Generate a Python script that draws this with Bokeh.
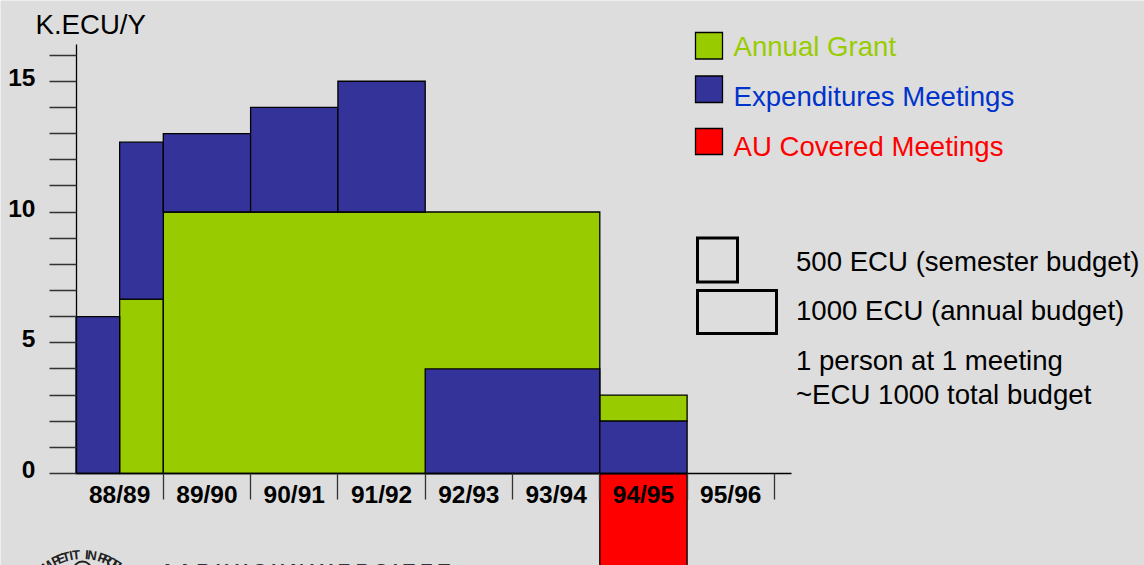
import math
from bokeh.plotting import figure
from bokeh.embed import file_html
from bokeh.resources import INLINE
from bokeh.core.properties import value
from bokeh.models import FixedTicker

years = ["88/89", "89/90", "90/91", "91/92", "92/93", "93/94", "94/95", "95/96"]
year_centres = [0.5, 1.5, 2.5, 3.5, 4.5, 5.5, 6.5, 7.5]
year_edges = [1, 2, 3, 4, 5, 6, 7, 8]
y_labels = [0, 5, 10, 15]
y_ticks = list(range(0, 17))

exp_left = [0, 0.5, 1, 2, 3, 4, 6]
exp_right = [0.5, 1, 2, 3, 4, 6, 7]
exp_top = [6, 12.67, 13, 14, 15, 4, 2]
exp_bottom = [0, 6.67, 10, 10, 10, 0, 0]

grant_left = [0.5, 1, 6]
grant_right = [1, 6, 7]
grant_top = [6.67, 10, 3]
grant_bottom = [0, 0, 2]

au_left = [6]
au_right = [7]
au_top = [0]
au_bottom = [-3.6]

GREEN, BLUE, RED, BG = "#99cc00", "#333399", "#ff0000", "#dddddd"
W, H = 1144, 565
X0, XU, Y0, YU = 75.5, 87.3, 473.0, 26.15
FONT = "Liberation Sans"


def dx(px):
    return (px - X0) / XU


def dy(py):
    return (Y0 - py) / YU


p = figure(width=W, height=H, output_backend="svg", toolbar_location=None,
           x_range=(dx(0), dx(W)), y_range=(dy(H), dy(0)),
           min_border=0, background_fill_color=BG, border_fill_color=BG)
p.outline_line_color = None
p.grid.visible = False

BAR = dict(line_color="black", line_width=1.3, line_join="miter")
p.quad(left=au_left, right=au_right, top=au_top, bottom=au_bottom, fill_color=RED, **BAR)
p.quad(left=grant_left, right=grant_right, top=grant_top, bottom=grant_bottom, fill_color=GREEN, **BAR)
p.quad(left=exp_left, right=exp_right, top=exp_top, bottom=exp_bottom, fill_color=BLUE, **BAR)

xa = p.xaxis[0]
xa.fixed_location = 0
xa.bounds = (0, 8.2)
xa.ticker = FixedTicker(ticks=year_centres, minor_ticks=year_edges)
xa.major_label_overrides = dict(zip(year_centres, years))
xa.major_tick_in = 0
xa.major_tick_out = 0
xa.minor_tick_in = 0
xa.minor_tick_out = 26
xa.major_label_standoff = -19
xa.major_label_text_font = FONT
xa.major_label_text_font_style = "bold"
xa.major_label_text_font_size = "24.5px"
xa.major_label_text_color = "black"
xa.axis_line_color = "black"
xa.axis_line_width = 1.3
xa.minor_tick_line_color = "#333333"
xa.minor_tick_line_width = 1.3

ya = p.yaxis[0]
ya.fixed_location = 0
ya.bounds = (0, 16.4)
ya.ticker = FixedTicker(ticks=[], minor_ticks=y_ticks)
ya.major_tick_in = 0
ya.major_tick_out = 0
ya.minor_tick_in = 0
ya.minor_tick_out = 27
ya.axis_line_color = "black"
ya.axis_line_width = 1.3
ya.minor_tick_line_color = "#333333"
ya.minor_tick_line_width = 1.3

p.text(x=[dx(35)] * 4, y=y_labels, text=[str(v) for v in y_labels], text_font=value(FONT),
       text_font_style="bold", text_font_size="24.5px", text_align="right",
       text_baseline="middle", text_color="black", y_offset=-4)


def label(px, py, s, color="black", size="27.6px", style="normal"):
    p.text(x=[dx(px)], y=[dy(py)], text=[s], text_font=value(FONT), text_font_size=size,
           text_color=color, text_align="left", text_baseline="middle", text_font_style=style)


def box(l, t, r, b, fill, lw=1.3):
    p.quad(left=[dx(l)], right=[dx(r)], top=[dy(t)], bottom=[dy(b)],
           fill_color=fill, fill_alpha=1.0 if fill else 0, line_color="black",
           line_width=lw, line_join="miter")


label(35, 24, "K.ECU/Y")

box(695, 32, 722, 58.5, GREEN)
box(695, 75.5, 722, 102, BLUE)
box(695, 128, 722, 154, RED)
label(733, 46, "Annual Grant", GREEN)
label(733, 96, "Expenditures Meetings", "#0033cc")
label(733, 146, "AU Covered Meetings", RED)

box(697, 237.5, 737, 281.5, None, 3)
box(697, 290, 776, 333, None, 3)
label(795.5, 261, "500 ECU (semester budget)")
label(795.5, 310, "1000 ECU (annual budget)")
label(795.5, 360, "1 person at 1 meeting")
label(795.5, 394, "~ECU 1000 total budget")

# institution line and seal, cut off by the bottom edge of the picture
p.text(x=[dx(160)], y=[dy(570)], text=["A A R H U S   U N I V E R S I T E T"], text_font=value(FONT),
       text_font_size="19px", text_font_style="bold", text_color="#333333",
       text_align="left", text_baseline="middle")

seal = "SOLIUM PETIT IN PROFUNDIS"
cx, cy, r, step, turn = 82.0, 614.0, 60.0, 0.088, 0.117
mid = seal.index("IN") + 0.5
sx, sy, sa = [], [], []
for i, ch in enumerate(seal):
    t = (i - mid) * step + turn
    sx.append(dx(cx + r * math.sin(t)))
    sy.append(dy(cy - r * math.cos(t)))
    sa.append(-t)
p.text(x=sx, y=sy, text=list(seal), angle=sa, text_font=value(FONT), text_font_size="13px",
       text_font_style="bold", text_color="#222222", text_align="center", text_baseline="middle")
p.scatter(x=[dx(82)], y=[dy(570)], size=18, marker="circle", fill_color=None,
          line_color="#222222", line_width=2)

html = file_html(p, INLINE)
html = html.replace("<body>", f'<body style="margin:0;overflow:hidden;background:{BG}">', 1)
open("out.html", "w").write(html)
